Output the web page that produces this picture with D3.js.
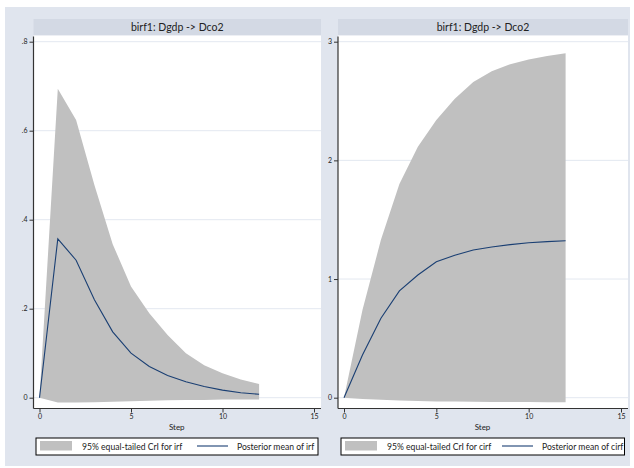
<!DOCTYPE html>
<html>
<head>
<meta charset="utf-8">
<script src="https://cdn.jsdelivr.net/npm/d3@7"></script>
<style>
  body { margin: 0; background: #fff; }
  text { font-family: Lato, "Open Sans", sans-serif; fill: #222; }
</style>
</head>
<body>
<div id="chart"></div>
<script>
// impulse-response data, steps 0..12
const steps = [0, 1, 2, 3, 4, 5, 6, 7, 8, 9, 10, 11, 12];

const irfMean  = [0, 0.357, 0.309, 0.22, 0.148, 0.1, 0.07, 0.05, 0.036, 0.025, 0.017, 0.011, 0.0076];
const irfLower = [0, -0.011, -0.011, -0.010, -0.009, -0.008, -0.007, -0.006, -0.005, -0.005, -0.004, -0.004, -0.004];
const irfUpper = [0, 0.694, 0.624, 0.478, 0.345, 0.25, 0.19, 0.141, 0.1, 0.073, 0.055, 0.041, 0.031];

const cirfMean  = [0, 0.36, 0.67, 0.9, 1.034, 1.146, 1.2, 1.245, 1.27, 1.29, 1.306, 1.315, 1.323];
const cirfLower = [0, -0.01, -0.018, -0.024, -0.028, -0.031, -0.033, -0.035, -0.036, -0.037, -0.037, -0.038, -0.038];
const cirfUpper = [0, 0.74, 1.33, 1.8, 2.115, 2.34, 2.52, 2.66, 2.75, 2.81, 2.85, 2.88, 2.902];

const irfTicks = [0, 0.2, 0.4, 0.6, 0.8];
const irfTickLabels = ["0", ".2", ".4", ".6", ".8"];
const cirfTicks = [0, 1, 2, 3];
const cirfTickLabels = ["0", "1", "2", "3"];
const stepTicks = [0, 5, 10, 15];

const panelTitle = "birf1: Dgdp -> Dco2";
const xTitle = "Step";
const irfLegend = ["95% equal-tailed CrI for irf", "Posterior mean of irf"];
const cirfLegend = ["95% equal-tailed CrI for cirf", "Posterior mean of cirf"];

const W = 634, H = 468;
const bandColor = "#c0c0c0";
const lineColor = "#1a3f73";

const svg = d3.select("#chart").append("svg")
  .attr("width", W).attr("height", H);

// graph region background
svg.append("rect")
  .attr("x", 5).attr("y", 7).attr("width", 625).attr("height", 459)
  .attr("fill", "#e0e5ee");

const panels = [
  { mean: irfMean, lower: irfLower, upper: irfUpper, ticks: irfTicks, labels: irfTickLabels,
    legend: irfLegend, left: 33.5, right: 321, legendBox: [36, 318] },
  { mean: cirfMean, lower: cirfLower, upper: cirfUpper, ticks: cirfTicks, labels: cirfTickLabels,
    legend: cirfLegend, left: 338, right: 628, legendBox: [341, 624.5] }
];

const plotTop = 35.5, plotBottom = 408.5;

panels.forEach(p => drawPanel(p));

function drawPanel(p) {
  const g = svg.append("g");
  const yMax = p.ticks[p.ticks.length - 1];

  const x = d3.scaleLinear().domain([0, 15]).range([p.left + 6, p.right - 7]);
  const y = d3.scaleLinear().domain([0, yMax]).range([397.7, 41.7]);

  // title bar
  g.append("rect")
    .attr("x", p.left).attr("y", 19).attr("width", p.right - p.left).attr("height", plotTop - 19)
    .attr("fill", "#d3d9e4");
  g.append("text")
    .attr("x", (p.left + p.right) / 2).attr("y", 31)
    .attr("text-anchor", "middle")
    .style("font-size", "10.5px")
    .text(panelTitle);

  // plot region
  g.append("rect")
    .attr("x", p.left).attr("y", plotTop).attr("width", p.right - p.left).attr("height", plotBottom - plotTop)
    .attr("fill", "#fff");

  // grid lines
  g.selectAll(".grid").data(p.ticks).enter().append("line")
    .attr("class", "grid")
    .attr("x1", p.left).attr("x2", p.right)
    .attr("y1", d => y(d)).attr("y2", d => y(d))
    .attr("stroke", "#e3e8f0").attr("stroke-width", 1);

  // credible band
  const area = d3.area()
    .x((d, i) => x(steps[i]))
    .y0((d, i) => y(p.lower[i]))
    .y1((d, i) => y(p.upper[i]));
  g.append("path").datum(p.mean)
    .attr("d", area)
    .attr("fill", bandColor);

  // posterior mean
  const line = d3.line()
    .x((d, i) => x(steps[i]))
    .y(d => y(d));
  g.append("path").datum(p.mean)
    .attr("d", line)
    .attr("fill", "none")
    .attr("stroke", lineColor)
    .attr("stroke-width", 1.1);

  // y axis
  const yAxis = g.append("g")
    .attr("transform", `translate(${p.left},0)`)
    .call(d3.axisLeft(y).tickValues(p.ticks)
      .tickFormat((d, i) => p.labels[i]).tickSize(4).tickPadding(2));
  yAxis.select(".domain").remove();
  yAxis.selectAll("line").attr("stroke", "#333");
  yAxis.selectAll("text").style("font-size", "7px").attr("fill", "#222");
  g.append("line")
    .attr("x1", p.left).attr("x2", p.left)
    .attr("y1", plotTop + 1).attr("y2", plotBottom)
    .attr("stroke", "#333").attr("stroke-width", 1.2);

  // x axis
  const xAxis = g.append("g")
    .attr("transform", `translate(0,${plotBottom})`)
    .call(d3.axisBottom(x).tickValues(stepTicks).tickSize(4).tickPadding(2));
  xAxis.select(".domain").remove();
  xAxis.selectAll("line").attr("stroke", "#333");
  xAxis.selectAll("text").style("font-size", "7px").attr("fill", "#222");
  g.append("line")
    .attr("x1", p.left).attr("x2", p.right)
    .attr("y1", plotBottom).attr("y2", plotBottom)
    .attr("stroke", "#333").attr("stroke-width", 1.2);

  g.append("text")
    .attr("x", (x(0) + x(15)) / 2).attr("y", 430)
    .attr("text-anchor", "middle")
    .style("font-size", "8px")
    .text(xTitle);

  // legend
  const [lx0, lx1] = p.legendBox;
  const lg = g.append("g");
  lg.append("rect")
    .attr("x", lx0).attr("y", 438).attr("width", lx1 - lx0).attr("height", 17)
    .attr("fill", "#fff").attr("stroke", "#000").attr("stroke-width", 1);
  lg.append("rect")
    .attr("x", lx0 + 4).attr("y", 441).attr("width", 32).attr("height", 9.5)
    .attr("fill", bandColor);
  lg.append("text")
    .attr("x", lx0 + 46).attr("y", 449.5)
    .style("font-size", "8.6px")
    .text(p.legend[0]);
  lg.append("line")
    .attr("x1", lx0 + 161).attr("x2", lx0 + 192)
    .attr("y1", 446).attr("y2", 446)
    .attr("stroke", lineColor).attr("stroke-width", 1.1);
  lg.append("text")
    .attr("x", lx0 + 201).attr("y", 449.5)
    .style("font-size", "8.6px")
    .text(p.legend[1]);
}
</script>
</body>
</html>
